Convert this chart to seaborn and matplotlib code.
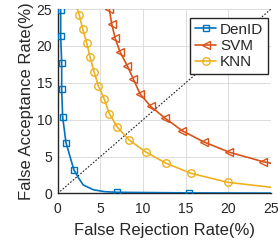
import numpy as np
import pandas as pd
import matplotlib
matplotlib.use("Agg")
import matplotlib.pyplot as plt
import seaborn as sns

# Data
denid_frr = [0.35, 0.35, 0.47, 0.47, 0.58, 0.97, 1.9, 2.5, 3.0, 4.2, 5.5, 7.0, 15.4, 25.0]
denid_far = [24.9, 21.3, 17.7, 14.1, 10.4, 6.9, 3.2, 2.0, 1.15, 0.5, 0.25, 0.16, 0.08, 0.05]
denid_marks = [0, 1, 2, 3, 4, 5, 6, 11, 12]

svm_frr = [6.05, 6.33, 6.72, 7.3, 8.16, 8.87, 9.65, 10.9, 12.6, 14.6, 17.1, 20.1, 24.1, 25.0]
svm_far = [25.0, 23.0, 21.1, 19.2, 17.3, 15.5, 13.5, 11.8, 10.2, 8.5, 7.0, 5.6, 4.3, 4.1]
svm_marks = list(range(13))

knn_frr = [2.3, 2.53, 2.93, 3.4, 3.79, 4.26, 4.76, 5.46, 6.05, 6.99, 8.36, 10.35, 12.7, 15.6, 19.9, 25.0]
knn_far = [25.0, 24.2, 22.3, 20.4, 18.5, 16.5, 14.6, 12.8, 10.8, 9.0, 7.26, 5.6, 4.1, 2.74, 1.52, 0.84]
knn_marks = list(range(1, 15))

x_ticks = [0, 5, 10, 15, 20, 25]
y_ticks = [0, 5, 10, 15, 20, 25]

sns.set_theme(style="whitegrid")
plt.rcParams['font.family'] = ['Liberation Sans', 'DejaVu Sans']

fig = plt.figure(figsize=(2.8, 2.44), dpi=100)
ax = fig.add_axes([0.206, 0.207, 0.762, 0.756])

blue = "#0072BD"
orange = "#D95319"
yellow = "#EDB120"

ax.plot([0, 25], [0, 25], linestyle=(0, (1.5, 1.5)), color="#222222", lw=0.8, zorder=1)

sns.lineplot(x=denid_frr, y=denid_far, ax=ax, color=blue, lw=1.2, marker="s",
             markersize=3.8, markerfacecolor="none", markeredgecolor=blue, markeredgewidth=1.0,
             label="DenID", sort=False, estimator=None, zorder=3)
sns.lineplot(x=svm_frr, y=svm_far, ax=ax, color=orange, lw=1.2, marker="<",
             markersize=5.8, markerfacecolor="none", markeredgecolor=orange, markeredgewidth=1.0,
             label="SVM", sort=False, estimator=None, zorder=3)
sns.lineplot(x=knn_frr, y=knn_far, ax=ax, color=yellow, lw=1.2, marker="o",
             markersize=5.4, markerfacecolor="none", markeredgecolor=yellow, markeredgewidth=1.0,
             label="KNN", sort=False, estimator=None, zorder=3)

ax.get_lines()[1].set_markevery(denid_marks)
ax.get_lines()[2].set_markevery(svm_marks)
ax.get_lines()[3].set_markevery(knn_marks)

ax.set_xlim(0, 25)
ax.set_ylim(0, 25)
ax.set_xticks(x_ticks)
ax.set_yticks(y_ticks)
ax.tick_params(axis='x', labelsize=10, colors="#262626", length=0, pad=6)
ax.tick_params(axis='y', labelsize=10, colors="#262626", length=0, pad=4)
ax.grid(True, color="#dcdcdc", lw=0.7)
for s in ["top", "right"]:
    ax.spines[s].set_visible(False)
for s in ["left", "bottom"]:
    ax.spines[s].set_color("#262626")
    ax.spines[s].set_linewidth(1.0)
ax.set_xlabel("False Rejection Rate(%)", fontsize=12, color="#262626", labelpad=5)
ax.set_ylabel("False Acceptance Rate(%)", fontsize=12, color="#262626", labelpad=2)

leg = ax.legend(loc="upper right", bbox_to_anchor=(0.986, 0.951), fontsize=11,
                frameon=True, fancybox=False, edgecolor="#262626", framealpha=1,
                borderpad=0.3, labelspacing=0.15, handlelength=1.4, handletextpad=0.25,
                borderaxespad=0)
leg.get_frame().set_linewidth(1.0)

fig.savefig("out.png", dpi=100)
